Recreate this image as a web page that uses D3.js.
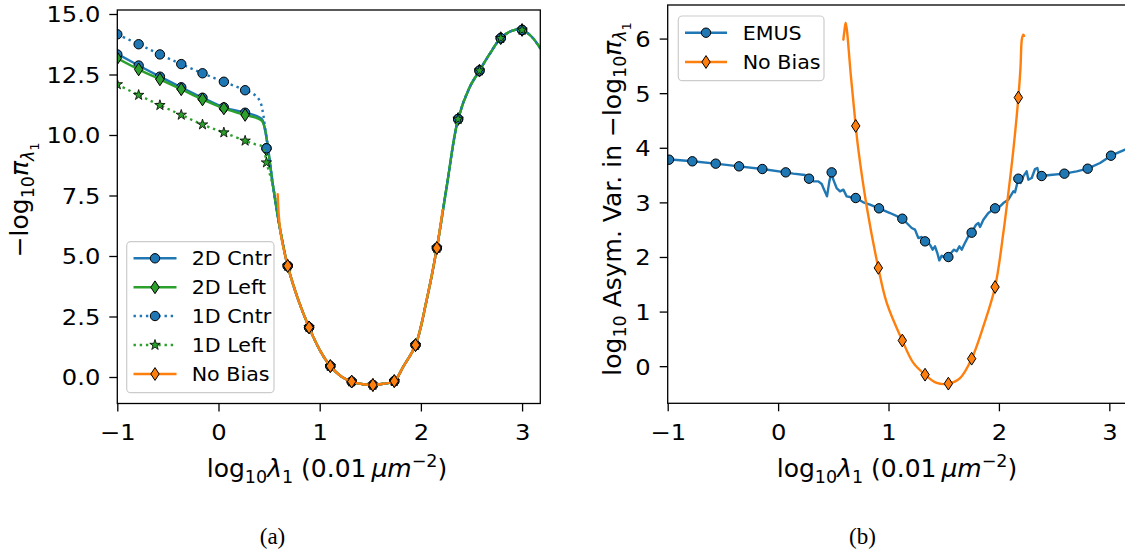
<!DOCTYPE html>
<html><head><meta charset="utf-8">
<script src="https://cdn.jsdelivr.net/npm/d3@7"></script>
<style>body{margin:0;background:#fff} svg{display:block}</style>
</head><body>
<svg id="c" width="1125" height="557"></svg>
<script>
// ---------- DATA (panel a) ----------
const xTicks = [-1, 0, 1, 2, 3];
const yTicksA = [0, 2.5, 5, 7.5, 10, 12.5, 15];
const yTicksB = [0, 1, 2, 3, 4, 5, 6];
const legendA = ["2D Cntr", "2D Left", "1D Cntr", "1D Left", "No Bias"];
const legendB = ["EMUS", "No Bias"];

const markerXA = [-1, -0.789, -0.579, -0.368, -0.158, 0.053, 0.263, 0.474, 0.684, 0.895, 1.105, 1.316, 1.526, 1.737, 1.947, 2.158, 2.368, 2.579, 2.789, 3.0];
const sharedMarkerY = [4.59, 2.05, 0.45, -0.19, -0.33, -0.17, 1.32, 5.33, 10.66, 12.66, 14.0, 14.34];
const cntr2DMarkerY = [13.33, 12.87, 12.41, 11.97, 11.54, 11.14, 10.92, 9.45];
const left2DMarkerY = [13.17, 12.71, 12.30, 11.89, 11.47, 11.10, 10.83, 9.40];
const cntr1DMarkerY = [14.16, 13.75, 13.33, 12.93, 12.55, 12.20, 11.85, 9.45];
const left1DMarkerY = [12.09, 11.65, 11.23, 10.83, 10.43, 10.10, 9.76, 8.86];

const uCurveX = [0.54, 0.61, 0.684, 0.789, 0.895, 1.0, 1.105, 1.217, 1.316, 1.43, 1.526, 1.628, 1.737, 1.826, 1.947, 2.057, 2.158, 2.255, 2.368, 2.485, 2.579, 2.683, 2.789, 2.897, 3.0, 3.095, 3.18];
const uCurveY = [7.86, 6.07, 4.59, 3.18, 2.05, 1.12, 0.45, 0.01, -0.19, -0.30, -0.33, -0.28, -0.17, 0.43, 1.32, 3.18, 5.33, 7.86, 10.66, 12.0, 12.66, 13.37, 14.0, 14.30, 14.34, 14.06, 13.58];

const cntr2DLineX = [-1, -0.789, -0.579, -0.368, -0.158, 0.053, 0.263, 0.38, 0.43, 0.46, 0.49];
const cntr2DLineY = [13.35, 12.87, 12.41, 11.97, 11.54, 11.14, 10.92, 10.78, 10.65, 10.2, 9.45];
const left2DLineX = [-1, -0.789, -0.579, -0.368, -0.158, 0.053, 0.263, 0.38, 0.43, 0.46, 0.49];
const left2DLineY = [13.17, 12.71, 12.30, 11.89, 11.47, 11.10, 10.83, 10.70, 10.58, 10.25, 9.40];
const cntr1DLineX = [-1, -0.789, -0.579, -0.368, -0.158, 0.053, 0.263, 0.36, 0.41, 0.44, 0.46, 0.49];
const cntr1DLineY = [14.16, 13.75, 13.33, 12.93, 12.55, 12.20, 11.85, 11.65, 11.4, 10.9, 10.3, 9.45];
const left1DLineX = [-1, -0.789, -0.579, -0.368, -0.158, 0.053, 0.263, 0.36, 0.44, 0.474];
const left1DLineY = [12.09, 11.65, 11.23, 10.83, 10.43, 10.10, 9.76, 9.62, 9.5, 8.86];
const noBiasAStartX = [0.585], noBiasAStartY = [7.55];
const noBiasAEndX = [2.215], noBiasAEndY = [6.9];

// ---------- DATA (panel b) ----------
const emusX = [-1.0, -0.777, -0.565, -0.354, -0.143, 0.069, 0.138, 0.244, 0.280, 0.319, 0.364, 0.395, 0.410, 0.443, 0.464, 0.485, 0.500, 0.530, 0.561, 0.591, 0.621, 0.651, 0.703, 0.772, 0.832, 0.914, 1.014, 1.125, 1.165, 1.210, 1.240, 1.270, 1.300, 1.331, 1.376, 1.400, 1.421, 1.442, 1.460, 1.482, 1.503, 1.542, 1.572, 1.593, 1.617, 1.642, 1.663, 1.684, 1.723, 1.753, 1.793, 1.814, 1.829, 1.859, 1.904, 1.965, 2.010, 2.040, 2.085, 2.131, 2.146, 2.176, 2.197, 2.221, 2.251, 2.267, 2.297, 2.327, 2.348, 2.366, 2.387, 2.463, 2.593, 2.704, 2.804, 2.916, 3.015, 3.142, 3.18];
const emusY = [3.79, 3.752, 3.709, 3.660, 3.611, 3.550, 3.526, 3.501, 3.434, 3.385, 3.385, 3.336, 3.263, 3.110, 3.385, 3.550, 3.416, 3.263, 3.202, 3.233, 3.110, 3.098, 3.080, 3.001, 2.958, 2.891, 2.805, 2.701, 2.622, 2.531, 2.500, 2.347, 2.366, 2.286, 2.225, 2.134, 2.195, 2.073, 1.938, 2.024, 1.999, 1.999, 2.085, 2.134, 2.103, 2.195, 2.134, 2.225, 2.378, 2.445, 2.592, 2.622, 2.549, 2.683, 2.805, 2.891, 2.927, 2.988, 3.049, 3.202, 3.184, 3.434, 3.355, 3.477, 3.568, 3.416, 3.446, 3.611, 3.630, 3.477, 3.483, 3.501, 3.526, 3.568, 3.617, 3.721, 3.855, 3.965, 3.99];
const emusMarkerX = [-0.988, -0.777, -0.565, -0.354, -0.143, 0.069, 0.280, 0.485, 0.703, 0.914, 1.125, 1.331, 1.542, 1.753, 1.965, 2.176, 2.387, 2.593, 2.804, 3.015];
const emusMarkerY = [3.782, 3.752, 3.709, 3.660, 3.611, 3.550, 3.434, 3.550, 3.080, 2.891, 2.701, 2.286, 1.999, 2.445, 2.891, 3.434, 3.483, 3.526, 3.617, 3.855];
const noBiasBX = [0.591, 0.600, 0.612, 0.66, 0.703, 0.727, 0.802, 0.908, 0.984, 1.125, 1.225, 1.331, 1.437, 1.542, 1.648, 1.753, 1.859, 1.965, 2.040, 2.100, 2.131, 2.176, 2.195, 2.209, 2.222, 2.228];
const noBiasBY = [5.98, 6.13, 6.29, 5.30, 4.40, 3.965, 2.93, 1.80, 1.16, 0.47, 0.06, -0.156, -0.308, -0.32, -0.217, 0.137, 0.729, 1.45, 2.44, 3.416, 3.965, 4.92, 5.45, 6.0, 6.07, 6.05];
const noBiasBMarkerX = [0.703, 0.908, 1.125, 1.331, 1.542, 1.753, 1.965, 2.176];
const noBiasBMarkerY = [4.40, 1.80, 0.47, -0.156, -0.32, 0.137, 1.45, 4.92];

// ---------- STYLE ----------
const BLUE = "#1f77b4", GREEN = "#2ca02c", ORANGE = "#ff7f0e";
const FONT = "DejaVu Sans";
const TSX = 1.1;   // horizontal stretch of tick labels in the reference raster
const TICKFS = 22, LABFS = 25, LEGFS = 19, LEGSX = 1.085;
const LW = 2.4;

const svg = d3.select("#c");

const xA = d3.scaleLinear([-1, 3.18], [117.3, 540.3]);
const yA = d3.scaleLinear([-1.095, 15.165], [403.5, 10]);
const xB = d3.scaleLinear([-1, 3.18], [667.7, 1129.2]);
const yB = d3.scaleLinear([-0.68, 6.615], [403.3, 5]);

const zip = (xs, ys) => xs.map((x, i) => [x, ys[i]]);
const withU = (xs, ys) => zip(xs, ys).concat(zip(uCurveX, uCurveY).filter(p => p[0] > xs[xs.length - 1] + 0.02));

const defs = svg.append("defs");
function clip(id, x, y) {
  defs.append("clipPath").attr("id", id).append("rect")
    .attr("x", x.range()[0]).attr("y", y.range()[1])
    .attr("width", x.range()[1] - x.range()[0]).attr("height", y.range()[0] - y.range()[1]);
}
clip("ca", xA, yA); clip("cb", xB, yB);

const fmtTick = d => (d < 0 ? "\u2212" + Math.abs(d) : String(d));

function axes(x, y, yt, yfmt) {
  const gx = svg.append("g").attr("transform", `translate(0,${y.range()[0]})`)
    .call(d3.axisBottom(x).tickValues(xTicks).tickSize(8).tickPadding(13).tickFormat(fmtTick));
  const gy = svg.append("g").attr("transform", `translate(${x.range()[0]},0)`)
    .call(d3.axisLeft(y).tickValues(yt).tickSize(8).tickPadding(9).tickFormat(yfmt));
  [gx, gy].forEach(g => {
    g.select(".domain").remove();
    g.selectAll(".tick line").attr("stroke", "#000").attr("stroke-width", 1.3);
    g.selectAll(".tick text").attr("fill", "#000").attr("font-family", FONT).attr("font-size", TICKFS);
  });
  gx.selectAll(".tick text").attr("transform", `scale(${TSX},1)`);
  gy.selectAll(".tick text").attr("x", -17 / TSX).attr("dy", "0.36em").attr("transform", `scale(${TSX},1)`);
}
axes(xA, yA, yTicksA, d3.format(".1f"));
axes(xB, yB, yTicksB, d3.format("d"));

// mathtext helper
function mtext(g, parts, fs) {
  const t = g.append("text").attr("font-family", FONT).attr("font-size", fs).attr("fill", "#000");
  let prev = 0;
  parts.forEach(p => {
    const shift = p.sub2 ? 0.42 : p.sub ? 0.22 : p.sup ? -0.42 : 0;
    const size = p.sub2 ? 0.5 : (p.sub || p.sup) ? 0.7 : 1;
    const ts = t.append("tspan").text(p.t).attr("font-size", fs * size)
      .attr("dy", ((shift - prev) * fs).toFixed(2));
    if (p.it) ts.attr("font-style", "italic");
    prev = shift;
  });
  return t;
}
const xlabParts = [{t: "log"}, {t: "10", sub: 1}, {t: "λ", it: 1}, {t: "1", sub: 1}, {t: " (0.01\u2009"}, {t: "μm", it: 1}, {t: "\u22122", sup: 1}, {t: ")"}];

function xlabel(cx) {
  const g = svg.append("g").attr("transform", `translate(${cx},477)`);
  mtext(g, xlabParts, LABFS).attr("text-anchor", "middle");
}
xlabel(327); xlabel(897);

const yl1 = svg.append("g").attr("transform", `translate(28,200) rotate(-90)`);
mtext(yl1, [{t: "\u2212log"}, {t: "10", sub: 1}, {t: "π", it: 1}, {t: "λ", it: 1, sub: 1}, {t: "1", sub2: 1}], LABFS).attr("text-anchor", "middle");
const yl2 = svg.append("g").attr("transform", `translate(620.5,199) rotate(-90)`);
mtext(yl2, [{t: "log"}, {t: "10", sub: 1}, {t: " Asym. Var. in \u2212log"}, {t: "10", sub: 1}, {t: "π", it: 1}, {t: "λ", it: 1, sub: 1}, {t: "1", sub2: 1}], LABFS).attr("text-anchor", "middle");

// captions
[["(a)", 272.5], ["(b)", 862.5]].forEach(([s, cx]) => {
  svg.append("g").attr("transform", `translate(${cx},544)`)
    .append("text").attr("text-anchor", "middle").attr("font-family", "Liberation Serif")
    .attr("font-size", 23).text(s);
});

// markers
const diamond = (w, h) => `M0,${-h}L${w},0L0,${h}L${-w},0Z`;
const star = d3.symbol().type(d3.symbolStar).size(34)();
function drawMarker(g, type, color, cx, cy) {
  if (type === "o") {
    g.append("circle").attr("cx", cx).attr("cy", cy).attr("r", 4.7)
      .attr("fill", color).attr("stroke", "#000").attr("stroke-width", 1);
  } else if (type === "d") {
    g.append("path").attr("d", diamond(4.2, 6.4)).attr("transform", `translate(${cx},${cy})`)
      .attr("fill", color).attr("stroke", "#000").attr("stroke-width", 1);
  } else {
    g.append("path").attr("d", star).attr("transform", `translate(${cx},${cy})`)
      .attr("fill", color).attr("stroke", "#000").attr("stroke-width", 0.8);
  }
}

function series(clipId, x, y, pts, color, dash, curve, mk, mpts) {
  const g = svg.append("g").attr("clip-path", `url(#${clipId})`);
  g.append("path").datum(pts)
    .attr("d", d3.line().x(d => x(d[0])).y(d => y(d[1])).curve(curve))
    .attr("fill", "none").attr("stroke", color).attr("stroke-width", LW)
    .attr("stroke-dasharray", dash || null).attr("stroke-linecap", dash ? "butt" : "round")
    .attr("stroke-linejoin", "round");
  mpts.forEach(p => drawMarker(g, mk, color, x(p[0]), y(p[1])));
}
const smooth = d3.curveCatmullRom.alpha(0.5);
const DOT = "2.4,3.8";

const mAll = ys => zip(markerXA, ys.concat(sharedMarkerY));

series("ca", xA, yA, withU(cntr2DLineX, cntr2DLineY), BLUE, null, smooth, "o", mAll(cntr2DMarkerY));
series("ca", xA, yA, withU(left2DLineX, left2DLineY), GREEN, null, smooth, "d", mAll(left2DMarkerY));
series("ca", xA, yA, withU(cntr1DLineX, cntr1DLineY), BLUE, DOT, smooth, "o", mAll(cntr1DMarkerY));
series("ca", xA, yA, withU(left1DLineX, left1DLineY), GREEN, DOT, smooth, "*", mAll(left1DMarkerY));
const noBiasA = zip(noBiasAStartX, noBiasAStartY)
  .concat(zip(uCurveX, uCurveY).filter(p => p[0] >= 0.6 && p[0] <= 2.16))
  .concat(zip(noBiasAEndX, noBiasAEndY));
series("ca", xA, yA, noBiasA, ORANGE, null, smooth, "d",
  markerXA.slice(8, 16).map((mx, i) => [mx, sharedMarkerY[i]]));

series("cb", xB, yB, zip(emusX, emusY), BLUE, null, d3.curveLinear, "o", zip(emusMarkerX, emusMarkerY));
series("cb", xB, yB, zip(noBiasBX, noBiasBY), ORANGE, null, smooth, "d", zip(noBiasBMarkerX, noBiasBMarkerY));

// frames
[[xA, yA], [xB, yB]].forEach(([x, y]) => {
  svg.append("rect").attr("x", x.range()[0]).attr("y", y.range()[1])
    .attr("width", x.range()[1] - x.range()[0]).attr("height", y.range()[0] - y.range()[1])
    .attr("fill", "none").attr("stroke", "#000").attr("stroke-width", 1.3);
});

// legends
function legend(box, rows, names, styles, lineX0, lineX1, textX) {
  svg.append("rect").attr("x", box[0]).attr("y", box[1]).attr("width", box[2] - box[0]).attr("height", box[3] - box[1])
    .attr("rx", 4).attr("fill", "#fff").attr("fill-opacity", 0.8).attr("stroke", "#cccccc").attr("stroke-width", 1.2);
  const g = svg.append("g");
  names.forEach((n, i) => {
    const [color, dash, mk] = styles[i];
    const yy = rows[i];
    g.append("line").attr("x1", lineX0).attr("x2", lineX1).attr("y1", yy).attr("y2", yy)
      .attr("stroke", color).attr("stroke-width", LW).attr("stroke-dasharray", dash || null);
    drawMarker(g, mk, color, (lineX0 + lineX1) / 2, yy);
    g.append("g").attr("transform", `translate(${textX},${yy + 7}) scale(${LEGSX},1)`)
      .append("text").attr("font-family", FONT).attr("font-size", LEGFS).attr("fill", "#000").text(n);
  });
}
legend([126.7, 241.7, 274, 392.7], [258.3, 287.3, 316, 345, 374], legendA,
  [[BLUE, null, "o"], [GREEN, null, "d"], [BLUE, DOT, "o"], [GREEN, DOT, "*"], [ORANGE, null, "d"]], 133.5, 176.5, 191.7);
legend([678.3, 16, 824, 80.7], [32.7, 62], legendB,
  [[BLUE, null, "o"], [ORANGE, null, "d"]], 685, 727, 742.7);
</script></body></html>
